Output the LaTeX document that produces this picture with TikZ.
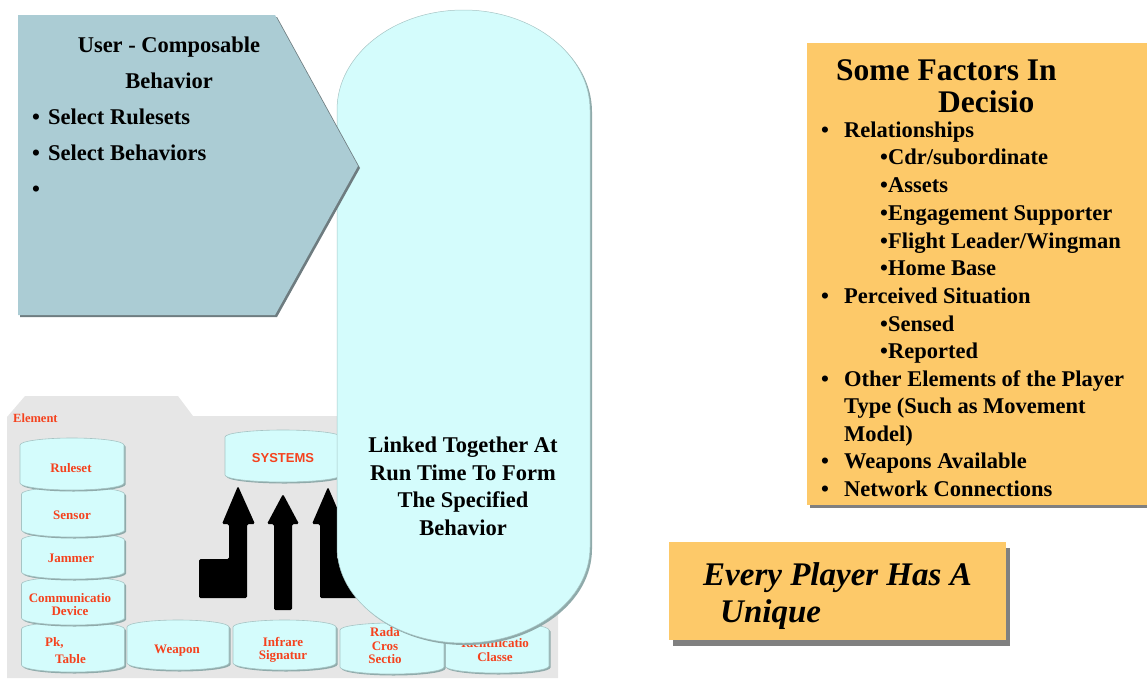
\documentclass[tikz,border=0pt]{standalone}
\usepackage{fontspec}
\setmainfont{Liberation Serif}
\setsansfont{Liberation Sans}
\definecolor{greybg}{HTML}{E6E6E6}
\definecolor{cyanfill}{HTML}{D4FCFC}
\definecolor{cylline}{HTML}{A6C4C4}
\definecolor{cylshade}{HTML}{8FAAAA}
\definecolor{pentfill}{HTML}{ABCCD4}
\definecolor{pentshade}{HTML}{6E7C80}
\definecolor{orangefill}{HTML}{FDC969}
\definecolor{boxshade}{HTML}{808080}
\definecolor{lblred}{HTML}{F5421E}
\newcommand\cylshape[4]{%
  \fill[cylshade, shift={(1.5,1.5)}] ({#1-#2},{#3+7}) arc[start angle=180,end angle=0,x radius=#2pt,y radius=7pt] -- ({#1+#2},{#4-7}) arc[start angle=0,end angle=-180,x radius=#2pt,y radius=7pt] -- cycle;
  \filldraw[fill=cyanfill, draw=cylline, line width=0.6pt] ({#1-#2},{#3+7}) arc[start angle=180,end angle=0,x radius=#2pt,y radius=7pt] -- ({#1+#2},{#4-7}) arc[start angle=0,end angle=-180,x radius=#2pt,y radius=7pt] -- cycle;
}
\begin{document}
\begin{tikzpicture}[x=1pt,y=-1pt,
  bigtext/.style={font=\fontsize{22.5}{27}\selectfont\bfseries, inner sep=0pt},
  listtext/.style={font=\fontsize{22.5}{27}\selectfont\bfseries, inner sep=0pt, anchor=base west},
  titletext/.style={font=\fontsize{31.5}{36}\selectfont\bfseries, inner sep=0pt, anchor=base west},
  ittext/.style={font=\fontsize{33}{37}\selectfont\bfseries\itshape, inner sep=0pt, anchor=base west},
  lbl/.style={font=\fontsize{13}{13.5}\selectfont\bfseries, text=lblred, inner sep=0pt, align=center},
  arrowblk/.style={fill=black, rounded corners=1.5pt}]
\useasboundingbox (0,0) rectangle (1147,680);

% grey folder background
\fill[greybg] (7,417) -- (25,396) -- (178,396) -- (193,416) -- (558,416) -- (558,678) -- (7,678) -- cycle;
\node[lbl, anchor=base west, font=\fontsize{12.5}{13}\selectfont\bfseries] (element) at (13,422) {Element};

% cylinders (bottom ones first)
\cylshape{497}{52}{623}{673}
\cylshape{392}{52}{623}{674}
\cylshape{284.5}{51.5}{620}{670}
\cylshape{178}{51}{620}{670}
\cylshape{73}{51.5}{622}{672}
\cylshape{73}{51.5}{577}{625}
\cylshape{73}{51.5}{533}{579}
\cylshape{73}{51.5}{487}{537}
\cylshape{72}{52}{438}{490}
\cylshape{283}{58}{430}{482}

\node[lbl] (ruleset) at (71,468) {Ruleset};
\node[lbl] (sensor) at (72,515) {Sensor};
\node[lbl] (jammer) at (71,558) {Jammer};
\node[lbl] (comm) at (70,604.5) {Communicatio\\Device};
\node[lbl, anchor=base west] (pk) at (45,646) {Pk,};
\node[lbl, anchor=base west] (table) at (55,663) {Table};
\node[lbl] (weapon) at (177,651) {Weapon};
\node[lbl] (infra) at (283,650) {Infrare\\Signatur};
\node[lbl] (rada) at (385,646) {Rada\\Cros\\Sectio};
\node[lbl] (ident) at (495,650) {Identificatio\\Classe};
\node[lbl, font=\sffamily\fontsize{13}{13.5}\selectfont\bfseries] (systems) at (283,458) {SYSTEMS};

% black arrows
\fill[arrowblk] (222,524) -- (238,486) -- (255,524) -- (247,524) -- (247,598) -- (199,598) -- (199,559) -- (229,559) -- (229,524) -- cycle;
\fill[arrowblk] (267,524) -- (283,494) -- (299,524) -- (292,524) -- (292,610) -- (274,610) -- (274,524) -- cycle;
\fill[arrowblk] (312,524) -- (328,487) -- (344,524) -- (337,524) -- (337,559) -- (375,559) -- (375,598) -- (320,598) -- (320,524) -- cycle;

% big rounded shape
\fill[cylshade, shift={(2,2)}] (337,110) arc[start angle=180,end angle=0,x radius=126.5pt,y radius=100pt] -- (590,547) arc[start angle=0,end angle=-180,x radius=126.5pt,y radius=96pt] -- cycle;
\filldraw[fill=cyanfill, draw=cylline, line width=0.5pt] (337,110) arc[start angle=180,end angle=0,x radius=126.5pt,y radius=100pt] -- (590,547) arc[start angle=0,end angle=-180,x radius=126.5pt,y radius=96pt] -- cycle;
\node[bigtext, anchor=base] (lk1) at (463,452) {Linked Together At};
\node[bigtext, anchor=base] (lk2) at (463,480) {Run Time To Form};
\node[bigtext, anchor=base] (lk3) at (463,507) {The Specified};
\node[bigtext, anchor=base] (lk4) at (463,535) {Behavior};

% pentagon
\fill[pentshade, shift={(2,2)}] (18,15) -- (275,15) -- (358,166) -- (275,315) -- (18,315) -- cycle;
\fill[pentfill] (18,15) -- (275,15) -- (358,166) -- (275,315) -- (18,315) -- cycle;
\node[bigtext, anchor=base] (uc1) at (169,52) {User - Composable};
\node[bigtext, anchor=base] (uc2) at (169,88) {Behavior};
\node[listtext] (pb1) at (32,124) {•};
\node[listtext] (pt1) at (48,124) {Select Rulesets};
\node[listtext] (pb2) at (32,160) {•};
\node[listtext] (pt2) at (48,160) {Select Behaviors};
\node[listtext] (pb3) at (32,196) {•};

% factors box
\fill[boxshade] (810,46) rectangle (1150,508);
\fill[orangefill] (807,43) rectangle (1147,505);
\node[titletext] (ft1) at (836,80) {Some Factors In};
\node[titletext] (ft2) at (938,112) {Decisio};
\node[listtext] (fb1) at (821,137) {•};
\node[listtext] (fi1) at (844,137) {Relationships};
\node[listtext] (fs1) at (880,164) {•Cdr/subordinate};
\node[listtext] (fs2) at (880,192) {•Assets};
\node[listtext] (fs3) at (880,220) {•Engagement Supporter};
\node[listtext] (fs4) at (880,248) {•Flight Leader/Wingman};
\node[listtext] (fs5) at (880,275) {•Home Base};
\node[listtext] (fb2) at (821,303) {•};
\node[listtext] (fi2) at (844,303) {Perceived Situation};
\node[listtext] (fs6) at (880,331) {•Sensed};
\node[listtext] (fs7) at (880,358) {•Reported};
\node[listtext] (fb3) at (821,386) {•};
\node[listtext] (fi3) at (844,386) {Other Elements of the Player};
\node[listtext] (fi3b) at (844,413) {Type (Such as Movement};
\node[listtext] (fi3c) at (844,441) {Model)};
\node[listtext] (fb4) at (821,468) {•};
\node[listtext] (fi4) at (844,468) {Weapons Available};
\node[listtext] (fb5) at (821,496) {•};
\node[listtext] (fi5) at (844,496) {Network Connections};

% unique box
\fill[boxshade] (673,548) rectangle (1010,646);
\fill[orangefill] (669,542) rectangle (1006,640);
\node[ittext] (ev1) at (703,585) {Every Player Has A};
\node[ittext] (ev2) at (720,622) {Unique};
\end{tikzpicture}
\end{document}
